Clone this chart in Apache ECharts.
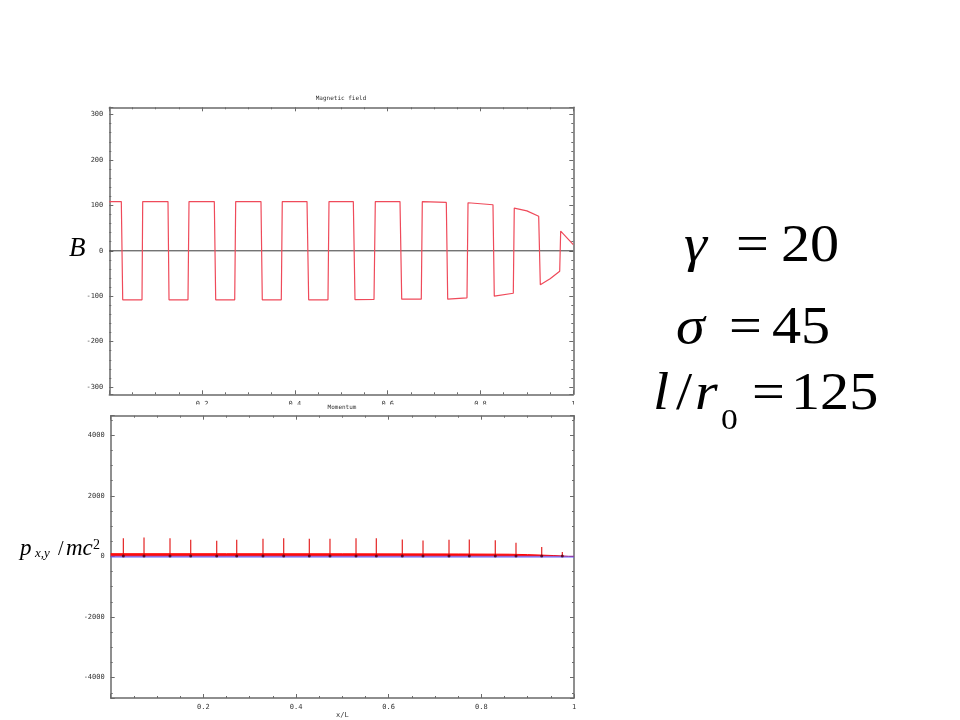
<!DOCTYPE html>
<html><head><meta charset="utf-8">
<script src="https://cdn.jsdelivr.net/npm/echarts@6/dist/echarts.min.js"></script>
<style>html,body{margin:0;padding:0;background:#fff}#c{width:960px;height:720px}</style>
</head><body><div id="c"></div>
<script>
// ---- Magnetic field B versus x/L (top panel) ----
const bX = [0,
  0.0259, 0.0289, 0.0705, 0.0720,
  0.1265, 0.1287, 0.1696, 0.1718,
  0.2263, 0.2293, 0.2703, 0.2724,
  0.3269, 0.3297, 0.3707, 0.3728,
  0.4261, 0.4297, 0.4713, 0.4735,
  0.5259, 0.5295, 0.5705, 0.5733,
  0.6265, 0.6302, 0.6724, 0.6746,
  0.7263, 0.7293, 0.7709, 0.7731,
  0.8269, 0.8297, 0.8707, 0.8728, 0.9000,
  0.9254, 0.9289, 0.9500, 0.9707, 0.9728,
  1.0];
const bY = [108.5,
  108.5, -108, -108, 108.5,
  108.5, -108, -108, 108.5,
  108.5, -108, -108, 108.5,
  108.5, -108, -108, 108.5,
  108.5, -108, -108, 108.5,
  108.5, -107.5, -107, 108.5,
  108.5, -106.5, -106.5, 108.5,
  106.5, -106.5, -103.6, 105.8,
  101.4, -100, -93.5, 94, 88,
  76, -75, -61.5, -45, 43.5,
  13.5];

// ---- Momentum (bottom panel) ----
const spikeX = [0.0273, 0.0719, 0.1280, 0.1727, 0.2288, 0.2720, 0.3287, 0.3734, 0.4287, 0.4733,
                0.5295, 0.5733, 0.6294, 0.6741, 0.7302, 0.7740, 0.8301, 0.8748, 0.9303, 0.9748];
const spikeH = [600, 623, 600, 546, 514, 546, 579, 600, 579, 579,
                600, 600, 557, 524, 546, 557, 535, 448, 306, 142];
const bandX   = [0, 0.25, 0.5, 0.75, 0.86, 0.90, 0.93, 0.955, 0.975, 0.988, 1.0];
const bandTop = [88, 87, 85, 80, 72, 58, 42, 28, 14, 0, 0];
const pyX = [0, 1];
const pyY = [-12, -12];

const axisColor = '#6a6a6a';
const lblFont = {fontSize: 7, fontFamily: 'DejaVu Sans Mono', color: '#333'};

function xAx(grid, pos) {
  return {
    type: 'value', gridIndex: grid, position: pos, min: 0, max: 1, interval: 0.2,
    axisLine: {show: true, onZero: false, lineStyle: {color: axisColor, width: 1.5}},
    axisTick: {show: true, inside: true, length: 4, lineStyle: {color: axisColor}},
    minorTick: {show: true, splitNumber: 4, length: 2, lineStyle: {color: axisColor}},
    splitLine: {show: false},
    axisLabel: Object.assign({show: pos === 'bottom', margin: 6, showMinLabel: false,
      formatter: v => (v === 1 ? '1' : v.toFixed(1))}, lblFont)
  };
}
function yAx(grid, pos, min, max, minorSplit) {
  return {
    type: 'value', gridIndex: grid, position: pos, min: min, max: max,
    axisLine: {show: true, onZero: false, lineStyle: {color: axisColor, width: 1.5}},
    axisTick: {show: true, inside: true, length: 4, lineStyle: {color: axisColor}},
    minorTick: {show: true, splitNumber: minorSplit, length: 2, lineStyle: {color: axisColor}},
    splitLine: {show: false},
    axisLabel: Object.assign({show: pos === 'left', margin: 6, showMinLabel: false, showMaxLabel: false,
      formatter: v => String(v)}, lblFont)
  };
}

const spikeData = [];
spikeX.forEach((x, i) => { spikeData.push([x, 0], [x, spikeH[i]], [x, '-']); });

const chart = echarts.init(document.getElementById('c'), null, {renderer: 'canvas'});
const serif = 'Liberation Serif';
function t(text, x, y, size, italic, extra) {
  return Object.assign({
    type: 'text', x: x, y: y, z: 110,
    style: {text: text, font: (italic ? 'italic ' : '') + size + 'px "' + serif + '"',
            fill: '#000', align: 'left', verticalAlign: 'middle'}
  }, extra || {});
}
const sx = {scaleX: 1.12};

chart.setOption({
  animation: false,
  backgroundColor: '#fff',
  grid: [
    {left: 109.3, top: 107.3, width: 464, height: 287},
    {left: 110.7, top: 415.7, width: 463.3, height: 287}
  ],
  xAxis: [xAx(0, 'bottom'), xAx(0, 'top'),
          Object.assign(xAx(1, 'bottom'), {name: 'x/L', nameLocation: 'middle', nameGap: 14,
            nameTextStyle: {fontSize: 7, fontFamily: 'DejaVu Sans Mono', color: '#333'}}),
          xAx(1, 'top')],
  yAxis: [yAx(0, 'left', -316, 316, 5), yAx(0, 'right', -316, 316, 5),
          yAx(1, 'left', -4670, 4640, 4), yAx(1, 'right', -4670, 4640, 4)],
  series: [
    {type: 'line', xAxisIndex: 0, yAxisIndex: 0, data: [[0, 0], [1, 0]], showSymbol: false,
     lineStyle: {color: '#3a3a3a', width: 1}, z: 2},
    {type: 'line', xAxisIndex: 0, yAxisIndex: 0, data: bX.map((x, i) => [x, bY[i]]), showSymbol: false,
     lineStyle: {color: '#ef4a5a', width: 1.2}, z: 3},
    {type: 'line', xAxisIndex: 2, yAxisIndex: 2, data: bandX.map((x, i) => [x, bandTop[i]]), showSymbol: false,
     lineStyle: {color: '#ff0000', width: 1}, areaStyle: {color: '#ff1010', opacity: 1, origin: 0}, z: 2},
    {type: 'line', xAxisIndex: 2, yAxisIndex: 2, data: pyX.map((x, i) => [x, pyY[i]]), showSymbol: false,
     lineStyle: {color: 'rgba(90,90,255,0.65)', width: 2}, z: 3},
    {type: 'line', xAxisIndex: 2, yAxisIndex: 2, data: spikeData, showSymbol: false, connectNulls: false,
     lineStyle: {width: 1.2, color: 'rgba(225,10,10,0.9)'}, z: 4},
    {type: 'scatter', xAxisIndex: 2, yAxisIndex: 2, data: spikeX.map(x => [x, 10]), symbolSize: 3,
     itemStyle: {color: '#4a0018'}, z: 5}
  ],
  graphic: [
    {type: 'text', x: 341, y: 98, z: 110, style: {text: 'Magnetic field', font: '6px "DejaVu Sans Mono"', fill: '#333', align: 'center', verticalAlign: 'middle'}},
    {type: 'rect', z: 100, shape: {x: 60, y: 404.4, width: 540, height: 10}, style: {fill: '#fff'}},
    {type: 'text', x: 342, y: 407, z: 110, style: {text: 'Momentum', font: '6px "DejaVu Sans Mono"', fill: '#333', align: 'center', verticalAlign: 'middle'}},
    t('B', 69, 249, 27, true),
    t('p', 20, 549, 23, true),
    t('x,y', 35, 553.6, 13, true),
    t('/', 58, 550, 20, false),
    t('mc', 66, 549, 23, true),
    t('2', 93, 545.3, 14, false),
    t('γ', 684, 247.5, 52, true, sx),
    t('=', 736, 247.5, 52, false, sx),
    t('20', 781, 247.5, 52, false, sx),
    t('σ', 676, 329.5, 52, true, sx),
    t('=', 729, 329.5, 52, false, sx),
    t('45', 772, 329.5, 52, false, sx),
    t('l', 653, 395.5, 52, true, sx),
    t('/', 676, 395.5, 52, false, sx),
    t('r', 695, 395.5, 52, true, sx),
    t('0', 721, 421, 30, false, sx),
    t('=', 752, 395.5, 52, false, sx),
    t('125', 791, 395.5, 52, false, sx)
  ]
});
</script></body></html>
